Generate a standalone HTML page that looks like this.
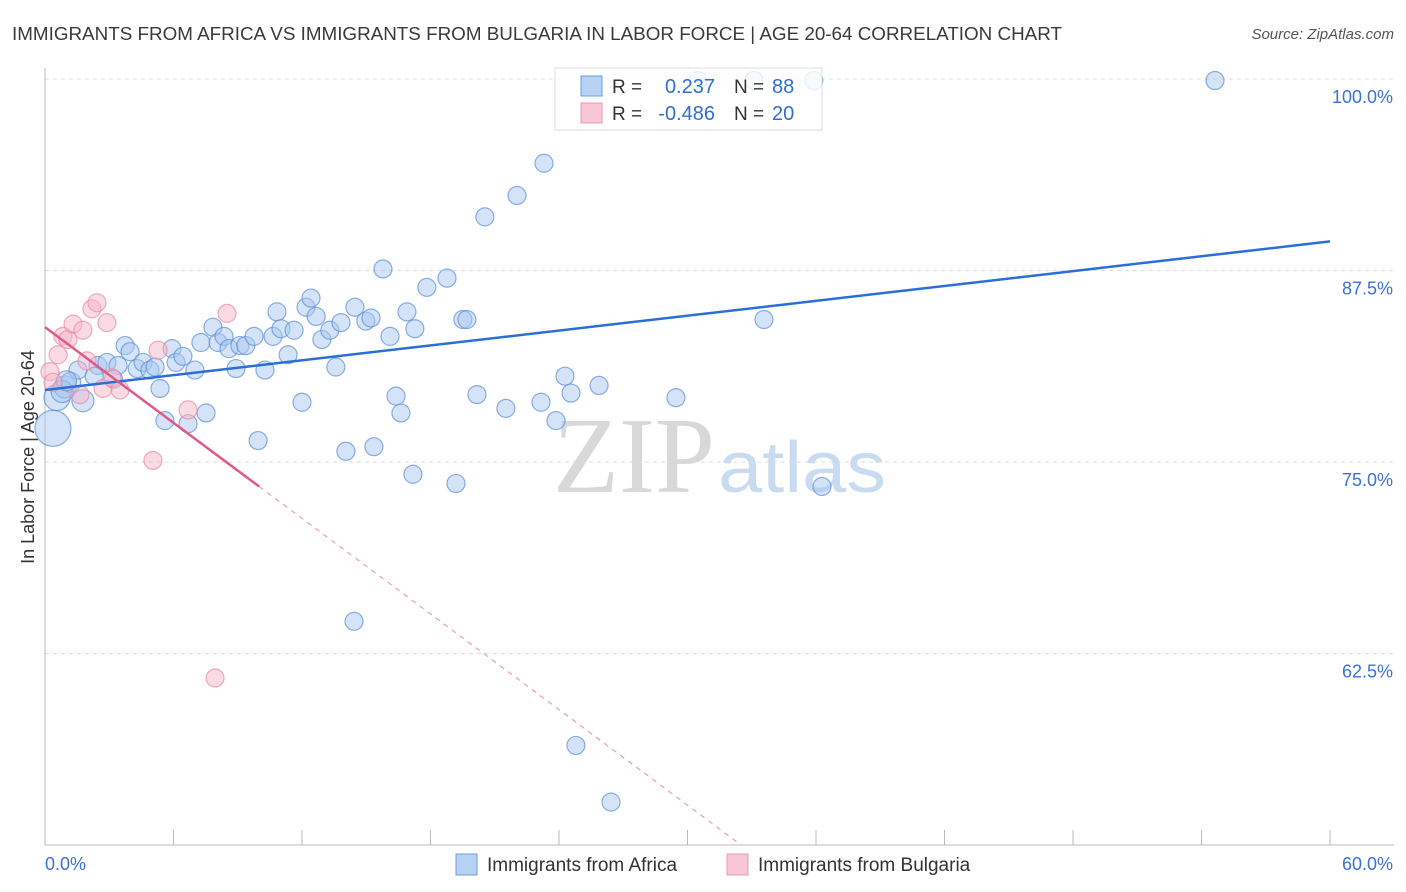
<!DOCTYPE html>
<html><head><meta charset="utf-8"><style>
body{margin:0;background:#fff;width:1406px;height:892px;overflow:hidden;font-family:"Liberation Sans",sans-serif}
svg{display:block}
</style></head><body>
<svg id="chart" width="1406" height="892">
<text x="12" y="40" font-size="18.5" fill="#3a3a3a" textLength="1050" lengthAdjust="spacingAndGlyphs">IMMIGRANTS FROM AFRICA VS IMMIGRANTS FROM BULGARIA IN LABOR FORCE | AGE 20-64 CORRELATION CHART</text>
<text x="1394" y="39" font-size="15" fill="#555" font-style="italic" text-anchor="end">Source: ZipAtlas.com</text>
<text transform="translate(34,457) rotate(-90)" font-size="18" fill="#333" text-anchor="middle">In Labor Force | Age 20-64</text>
<g><text x="553" y="492" font-family="Liberation Serif,serif" font-size="108" fill="#d8d8d8" textLength="162" lengthAdjust="spacingAndGlyphs">ZIP</text><text x="718" y="492" font-size="72" fill="#c9dbf1" textLength="168" lengthAdjust="spacingAndGlyphs">atlas</text></g>
<g id="grid"></g><g id="axes"></g><g id="marks"></g><g id="lines"></g>
<g>
<rect x="555" y="68" width="267" height="62" fill="#fff" fill-opacity="0.8" stroke="#ddd"/>
<rect x="581" y="76" width="21" height="20" fill="#b8d2f4" stroke="#6b9ce0"/>
<rect x="581" y="103" width="21" height="20" fill="#f8c6d5" stroke="#ec9ab3"/>
<text x="612" y="93" font-size="19" fill="#333">R =</text><text x="715" y="93" font-size="20" fill="#2f6fd3" text-anchor="end">0.237</text>
<text x="734" y="93" font-size="19" fill="#333">N =</text><text x="772" y="93" font-size="20" fill="#2f6fd3">88</text>
<text x="612" y="120" font-size="19" fill="#333">R =</text><text x="715" y="120" font-size="20" fill="#2f6fd3" text-anchor="end">-0.486</text>
<text x="734" y="120" font-size="19" fill="#333">N =</text><text x="772" y="120" font-size="20" fill="#2f6fd3">20</text>
</g>
<g>
<rect x="456" y="854" width="21" height="21" fill="#b8d2f4" stroke="#6b9ce0"/>
<text x="487" y="871" font-size="19" fill="#333">Immigrants from Africa</text>
<rect x="727" y="854" width="21" height="21" fill="#f8c6d5" stroke="#ec9ab3"/>
<text x="758" y="871" font-size="19" fill="#333">Immigrants from Bulgaria</text>
</g>
</svg>
<script>
const yTicks=[62.5,75,87.5,100];
const yTickLabels=["62.5%","75.0%","87.5%","100.0%"];
const xTickVals=[0,6,12,18,24,30,36,42,48,54,60];
const africaX=[0.37,0.56,0.93,1.2,1.77,1.54,2.47,2.89,3.41,3.74,3.97,4.30,4.58,4.90,5.14,5.37,5.60,5.93,6.12,6.44,6.68,7.00,7.28,7.52,7.84,8.08,8.36,8.59,8.92,9.10,9.38,9.76,9.95,10.27,10.65,10.83,11.02,11.35,11.63,12.00,12.19,12.42,12.66,12.93,13.30,13.58,13.82,14.05,14.47,14.98,15.22,15.36,15.78,16.11,16.39,16.62,16.90,17.18,17.27,17.83,18.77,19.19,19.51,19.70,20.17,20.54,21.52,22.04,23.16,23.30,23.86,24.28,24.56,25.87,29.46,33.57,36.28,35.90,54.63,14.43,24.79,26.43,30.5,33.1,0.8,2.3,3.2,1.0];
const africaY=[77.2,79.2,79.9,80.2,79.0,81.0,81.3,81.5,81.3,82.6,82.2,81.1,81.5,81.0,81.2,79.8,77.7,82.4,81.5,81.9,77.5,81.0,82.8,78.2,83.8,82.8,83.2,82.4,81.1,82.6,82.6,83.2,76.4,81.0,83.2,84.8,83.7,82.0,83.6,78.9,85.1,85.7,84.5,83.0,83.6,81.2,84.1,75.7,85.1,84.2,84.4,76.0,87.6,83.2,79.3,78.2,84.8,74.2,83.7,86.4,87.0,73.6,84.3,84.3,79.4,91.0,78.5,92.4,78.9,94.5,77.7,80.6,79.5,80.0,79.2,84.3,73.4,99.9,99.9,64.6,56.5,52.8,99.9,99.9,79.6,80.6,80.4,80.3];
const africaR=[18,13,11,10,11,9,9,9,9,9,9,9,9,9,9,9,9,9,9,9,9,9,9,9,9,9,9,9,9,9,9,9,9,9,9,9,9,9,9,9,9,9,9,9,9,9,9,9,9,9,9,9,9,9,9,9,9,9,9,9,9,9,9,9,9,9,9,9,9,9,9,9,9,9,9,9,9,9,9,9,9,9,9,9,11,9,9,10];
const bulgX=[0.23,0.37,0.61,0.84,1.07,1.31,1.63,1.77,1.96,2.19,2.43,2.89,2.71,3.13,3.50,5.04,5.28,6.68,8.50,7.94];
const bulgY=[80.9,80.2,82.0,83.2,83.0,84.0,79.4,83.6,81.6,85.0,85.4,84.1,79.8,80.5,79.7,75.1,82.3,78.4,84.7,60.9];
const africaFit=[79.7,89.4];
const bulgFit=[83.8,-1.04];
const X=v=>45+v/60*1285, Y=v=>845-(v-50)/50*766;
const NS="http://www.w3.org/2000/svg";
function mk(p,t,a){const e=document.createElementNS(NS,t);for(const k in a)e.setAttribute(k,a[k]);document.getElementById(p).appendChild(e);return e;}
yTicks.forEach((t,i)=>{
 const g=mk('grid','line',{x1:45,x2:1394,y1:Y(t),y2:Y(t),stroke:'#ddd','stroke-dasharray':'4,4'});
 
 
 const l=mk('axes','text',{x:1393,y:Y(t)+24,'font-size':18,fill:'#3b72d6','text-anchor':'end'});
 l.textContent=yTickLabels[i];
 
 
});
mk('axes','line',{x1:45,x2:45,y1:68,y2:845,stroke:'#bbb'});
mk('axes','line',{x1:45,x2:1394,y1:845,y2:845,stroke:'#bbb'});
xTickVals.forEach(v=>{const t=mk('axes','line',{x1:X(v),x2:X(v),y1:830,y2:845,stroke:'#bbb'});
 
 });
const a0=mk('axes','text',{x:45,y:870,'font-size':18,fill:'#3b72d6'});a0.textContent='0.0%';


const a1=mk('axes','text',{x:1393,y:870,'font-size':18,fill:'#3b72d6','text-anchor':'end'});a1.textContent='60.0%';


africaX.forEach((x,i)=>{const c=mk('marks','circle',{cx:X(x),cy:Y(africaY[i]),r:africaR[i],fill:'#a9c8f0','fill-opacity':0.5,stroke:'#5b8fd6','stroke-opacity':0.7,'stroke-width':1.2});
 
 });
bulgX.forEach((x,i)=>{const c=mk('marks','circle',{cx:X(x),cy:Y(bulgY[i]),r:9,fill:'#f5b5c8','fill-opacity':0.5,stroke:'#e88aa5','stroke-opacity':0.7,'stroke-width':1.2});
 
 });
const bl=mk('lines','line',{x1:X(0),y1:Y(africaFit[0]),x2:X(60),y2:Y(africaFit[1]),stroke:'#2a6fd6','stroke-width':2.5});


const pf=x=>bulgFit[0]+bulgFit[1]*x;
const pl=mk('lines','line',{x1:X(0),y1:Y(pf(0)),x2:X(10),y2:Y(pf(10)),stroke:'#e05a86','stroke-width':2.5});


const xe=(50-bulgFit[0])/bulgFit[1];
const pd=mk('lines','line',{x1:X(10),y1:Y(pf(10)),x2:X(xe),y2:Y(50),stroke:'#e88aa5','stroke-width':1,'stroke-dasharray':'5,5'});


</script>
</body></html>
